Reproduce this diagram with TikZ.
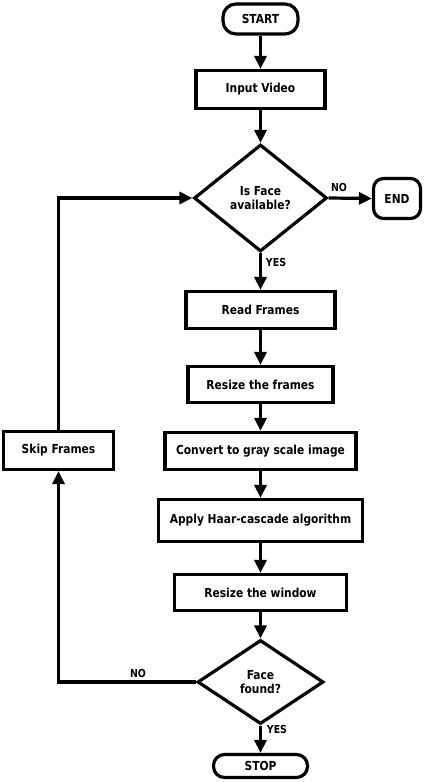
\documentclass[tikz,border=0pt]{standalone}
\usepackage{fontspec}
\setmainfont{DejaVu Sans}[FakeStretch=0.86]
\usetikzlibrary{arrows.meta,shapes.geometric}
\begin{document}
\begin{tikzpicture}[x=1pt,y=1pt,
  line width=3.2pt,
  every node/.style={font=\bfseries\fontsize{12.4}{14.5}\selectfont, inner sep=0pt, align=center},
  box/.style={draw, rectangle, line width=3.2pt},
  term/.style={draw, rectangle, rounded corners=13pt, line width=3.2pt},
  dec/.style={draw, diamond, line width=3.2pt},
  lbl/.style={font=\bfseries\fontsize{11}{13}\selectfont},
  arr/.style={-{Triangle[length=13pt,width=12pt]}, line width=3.2pt}
]
\useasboundingbox (0,0) rectangle (425,-782);
\def\cx{260.5}
\node[term, minimum width=75pt, minimum height=30pt] (start) at (\cx,-19) {START};
\node[box, minimum width=129pt, minimum height=38pt] (input) at (\cx,-89.5) {Input Video};
\node[dec, minimum width=133pt, minimum height=107pt] (dec1) at (\cx,-198) {Is Face\\available?};
\node[term, rounded corners=10pt, minimum width=47pt, minimum height=40pt] (end) at (397,-198.5) {END};
\node[box, minimum width=149pt, minimum height=37pt] (read) at (\cx,-310) {Read Frames};
\node[box, minimum width=145pt, minimum height=36pt] (resize) at (\cx,-384.5) {Resize the frames};
\node[box, minimum width=191pt, minimum height=37pt] (convert) at (\cx,-451) {Convert to gray scale image};
\node[box, minimum width=110pt, minimum height=38pt] (skip) at (58.5,-450.5) {Skip Frames};
\node[box, minimum width=204pt, minimum height=42pt] (haar) at (\cx,-520.5) {Apply Haar-cascade algorithm};
\node[box, minimum width=172pt, minimum height=36pt] (window) at (\cx,-592.5) {Resize the window};
\node[dec, minimum width=126pt, minimum height=84pt] (dec2) at (\cx,-682) {Face\\found?};
\node[term, minimum width=94pt, minimum height=23pt, rounded corners=11pt] (stop) at (\cx,-766) {STOP};
\coordinate (corner) at (skip.center |- dec2.west);

\draw[arr] (start) -- (input);
\draw[arr] (input) -- (dec1);
\draw[arr] (dec1.east) -- (end.west);
\draw[arr] (dec1.south) -- (read.north);
\draw[arr] (read) -- (resize);
\draw[arr] (resize) -- (convert);
\draw[arr] (convert) -- (haar);
\draw[arr] (haar) -- (window);
\draw[arr] (window) -- (dec2.north);
\draw[arr] (dec2.south) -- (stop.north);
\draw[arr] (dec2.west) -- (corner) -- (skip.south);
\draw[arr] (skip.north) |- (dec1.west);

\node[lbl] (no1) at (339,-187) {NO};
\node[lbl] (yes1) at (276,-262) {YES};
\node[lbl] (no2) at (138,-673) {NO};
\node[lbl] (yes2) at (277,-729) {YES};
\end{tikzpicture}
\end{document}
